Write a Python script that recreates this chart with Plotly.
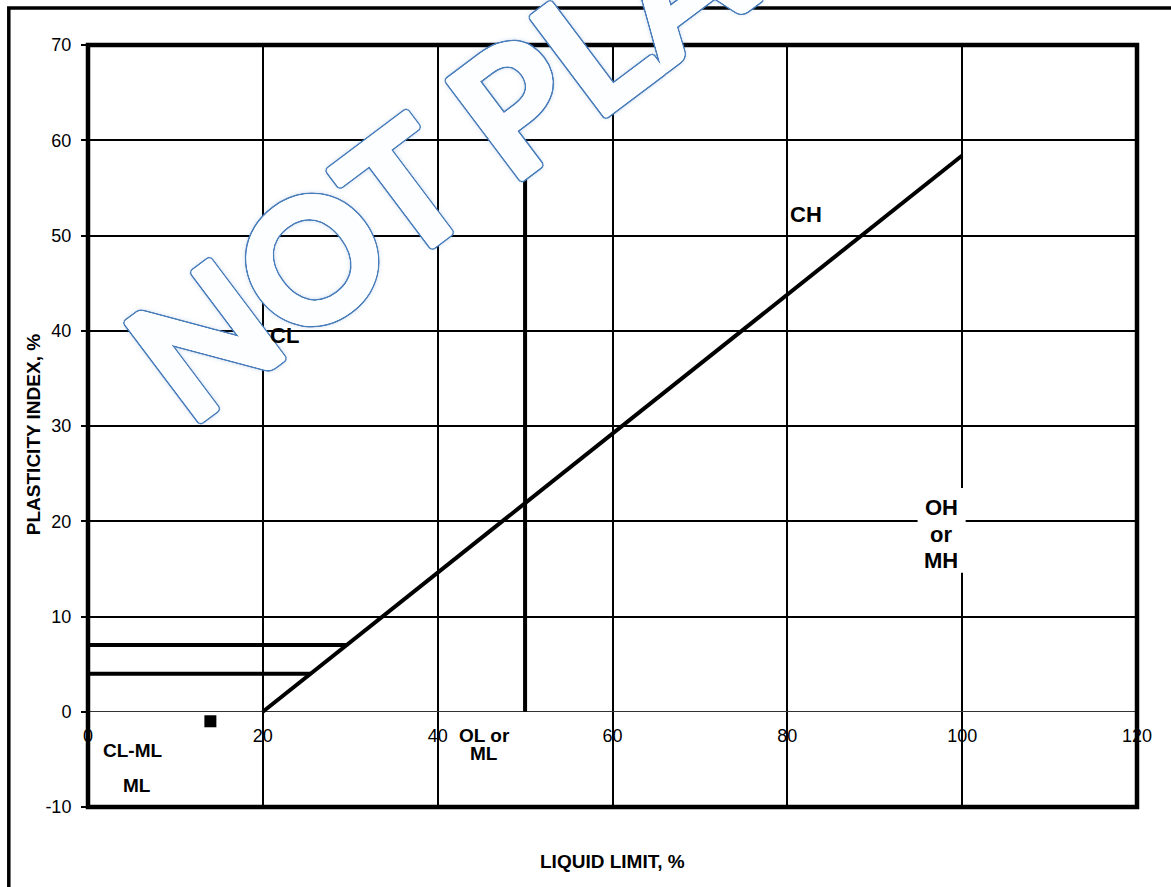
import math
import plotly.graph_objects as go

# ---- Plasticity chart data ----
# A-line: PI = 0.73 (LL - 20)
a_line_ll = [20, 100]
a_line_pi = [0, 58.4]
# CL-ML band limits (PI = 7 and PI = 4), ending on the A-line
pi7_ll = [0, 29.6]
pi7_pi = [7, 7]
pi4_ll = [0, 25.5]
pi4_pi = [4, 4]
# LL = 50 divider
ll50_ll = [50, 50]
ll50_pi = [0, 60]
# Tested sample
sample_ll = [14]
sample_pi = [-1]

x_ticks = [0, 20, 40, 60, 80, 100, 120]
y_ticks = [-10, 0, 10, 20, 30, 40, 50, 60, 70]
x_tick_text = [str(v) for v in x_ticks]
y_tick_text = [str(v) for v in y_ticks]

FONT = "Liberation Sans, Arial, sans-serif"
BLUE = "#4A7EBB"

fig = go.Figure()

for xs, ys in [(a_line_ll, a_line_pi), (pi7_ll, pi7_pi), (pi4_ll, pi4_pi), (ll50_ll, ll50_pi)]:
    fig.add_trace(go.Scatter(x=xs, y=ys, mode="lines",
                             line=dict(color="black", width=4),
                             hoverinfo="skip", showlegend=False))

fig.add_trace(go.Scatter(x=sample_ll, y=sample_pi, mode="markers",
                         marker=dict(symbol="square", size=12, color="black"),
                         hoverinfo="skip", showlegend=False))


def ring(r, color, n=16):
    """Text-shadow ring used to fatten / outline the watermark glyphs."""
    parts = []
    for k in range(n):
        t = 2 * math.pi * k / n
        parts.append(f"{r * math.cos(t):.2f}px {r * math.sin(t):.2f}px 0 {color}")
    return parts


outline = ", ".join(
    ring(2.2, "#FDFEFF") + ring(1.2, "#FDFEFF")
    + ring(3.7, BLUE) + ring(2.9, BLUE)
    + ["0 0 7px rgba(79,129,189,0.9)", "0 0 4px rgba(79,129,189,0.9)"]
)

bold = dict(family=FONT, color="black", weight="bold")

annotations = [
    # watermark
    dict(text="NOT PLA", x=39.8, y=57.8, xref="x", yref="y", showarrow=False,
         textangle=-37,
         font=dict(family="Lato", size=170, color="#FDFEFF", weight="bold", shadow=outline)),
    # zone labels
    dict(text="CL", x=20.6, y=39.5, xanchor="left", font=dict(size=22, **bold)),
    dict(text="CH", x=80.1, y=52.2, xanchor="left", font=dict(size=22, **bold)),
    dict(text="OH", x=97.6, y=21.4, font=dict(size=22, **bold)),
    dict(text="or", x=97.6, y=18.6, font=dict(size=22, **bold)),
    dict(text="MH", x=97.6, y=15.9, font=dict(size=22, **bold)),
    dict(text="OL or", x=45.3, y=-2.48, font=dict(size=19, **bold)),
    dict(text="ML", x=45.3, y=-4.37, font=dict(size=19, **bold)),
    dict(text="CL-ML", x=5.1, y=-4.07, font=dict(size=19, **bold)),
    dict(text="ML", x=5.63, y=-7.74, font=dict(size=19, **bold)),
]
for a in annotations[1:]:
    a.update(xref="x", yref="y", showarrow=False)

annotations += [
    dict(text="LIQUID LIMIT, %", x=0.5, y=-0.0715, xref="paper", yref="paper",
         xanchor="center", yanchor="middle",
         showarrow=False, font=dict(size=19, **bold)),
    dict(text="PLASTICITY INDEX, %", x=-0.0524, y=0.488, xref="paper", yref="paper",
         xanchor="center", yanchor="middle",
         showarrow=False, textangle=-90, font=dict(size=19, **bold)),
]

shapes = [
    # white box behind the OH / or / MH label
    dict(type="rect", xref="x", yref="y", x0=94.9, x1=100.4, y0=14.6, y1=23.5,
         fillcolor="white", line=dict(width=0), layer="above"),
    # plot-area frame
    dict(type="rect", xref="paper", yref="paper", x0=0, x1=1, y0=0, y1=1,
         line=dict(color="black", width=4.5), layer="above"),
    # chart-area border
    dict(type="rect", xref="paper", yref="paper", x0=-0.0755, x1=1.1, y0=-0.2, y1=1.0487,
         line=dict(color="black", width=3.5), layer="above"),
]

fig.update_layout(
    width=1171, height=887,
    margin=dict(l=88, r=34, t=45, b=80),
    paper_bgcolor="white", plot_bgcolor="white",
    showlegend=False,
    annotations=annotations,
    shapes=shapes,
    xaxis=dict(range=[0, 120], tickvals=x_ticks, ticktext=x_tick_text, showgrid=True,
               gridcolor="black", gridwidth=2, zeroline=False, showline=False,
               ticks="", anchor="free", position=0.125, ticklabelstandoff=11,
               tickfont=dict(family=FONT, size=18, color="black")),
    yaxis=dict(range=[-10, 70], tickvals=y_ticks, ticktext=y_tick_text, showgrid=True,
               gridcolor="black", gridwidth=2,
               zeroline=True, zerolinecolor="#333333", zerolinewidth=1.2,
               showline=False, ticks="outside", ticklen=6, tickwidth=1.5,
               tickcolor="black", ticklabelstandoff=6,
               tickfont=dict(family=FONT, size=18, color="black")),
)

fig.write_html("out.html")
